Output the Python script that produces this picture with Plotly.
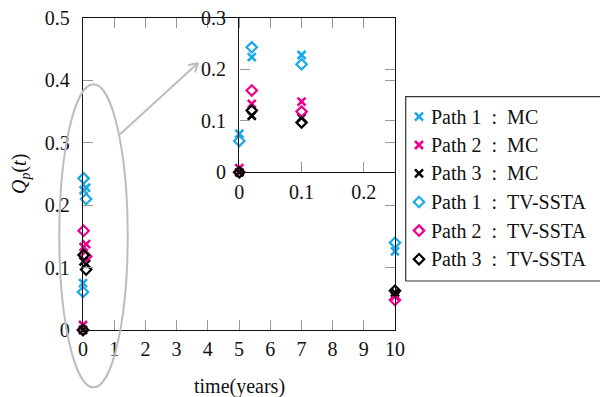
import numpy as np
import plotly.graph_objects as go

# ---- data ----
t = [0, 0.02, 0.1, 10]
path1_mc = [0.075, 0.224, 0.228, 0.126]
path2_mc = [0.008, 0.133, 0.1375, 0.054]
path3_mc = [0.0, 0.11, 0.106, 0.060]
path1_tv = [0.061, 0.243, 0.210, 0.140]
path2_tv = [0.0, 0.159, 0.118, 0.048]
path3_tv = [0.0, 0.120, 0.097, 0.063]

names = ["Path 1\u2002:\u2002MC", "Path 2\u2002:\u2002MC", "Path 3\u2002:\u2002MC",
         "Path 1\u2002:\u2002TV-SSTA", "Path 2\u2002:\u2002TV-SSTA", "Path 3\u2002:\u2002TV-SSTA"]
series = [path1_mc, path2_mc, path3_mc, path1_tv, path2_tv, path3_tv]

main_yticks = [0, 0.1, 0.2, 0.3, 0.4, 0.5]
main_ytext = ["0", "0.1", "0.2", "0.3", "0.4", "0.5"]
main_xticks = list(range(0, 11))
main_xtext = [str(v) for v in main_xticks]
inset_xticks = [0, 0.1, 0.2]
inset_xtext = ["0", "0.1", "0.2"]
inset_yticks = [0, 0.1, 0.2, 0.3]
inset_ytext = ["0", "0.1", "0.2", "0.3"]

CYAN = "#1AA9E8"
MAG = "#EC008C"
BLK = "#000000"
colors = [CYAN, MAG, BLK, CYAN, MAG, BLK]
symbols = ["x-thin-open"] * 3 + ["diamond-open"] * 3
widths = [2.6] * 3 + [2.2] * 3

FONT = "Times New Roman, Liberation Serif, Times, serif"
TXT = "#111"
W, H = 600, 397


def px(x, y):
    """pixel -> paper (margin is zero, so paper = whole figure)"""
    return x / W, (H - y) / H


# plot-area geometry (pixels)
MAIN_L, MAIN_R, MAIN_T, MAIN_B = 83, 395, 18, 330
INS_L, INS_B = 239.3, 172.3

fig = go.Figure()
for i, ys in enumerate(series):
    mk = dict(symbol=symbols[i], size=8, color=colors[i],
              line=dict(color=colors[i], width=widths[i]))
    fig.add_trace(go.Scatter(x=t, y=ys, mode="markers", name=names[i], marker=mk,
                             cliponaxis=False, showlegend=False, xaxis="x", yaxis="y"))
for i, ys in enumerate(series):
    mk = dict(symbol=symbols[i], size=8, color=colors[i],
              line=dict(color=colors[i], width=widths[i]))
    fig.add_trace(go.Scatter(x=t, y=ys, mode="markers", name=names[i], marker=mk,
                             showlegend=False, cliponaxis=False,
                             xaxis="x2", yaxis="y2"))

# ---- hand-made legend (reference legend runs off the right edge) ----
leg_x_marker = 419
leg_x_text = 429
leg_rows = [116.7, 145.0, 173.3, 202.0, 230.6, 259.2]
for i in range(6):
    mk = dict(symbol=symbols[i], size=8, color=colors[i],
              line=dict(color=colors[i], width=widths[i]))
    fig.add_trace(go.Scatter(x=[leg_x_marker], y=[leg_rows[i]], mode="markers",
                             marker=mk, showlegend=False, cliponaxis=False,
                             hoverinfo="skip", xaxis="x3", yaxis="y3"))
    fig.add_annotation(text=names[i], xref="paper", yref="paper",
                       x=px(leg_x_text, 0)[0], y=px(0, leg_rows[i])[1],
                       xanchor="left", yanchor="middle", showarrow=False,
                       font=dict(family=FONT, size=20, color=TXT))
lx0, ly0 = px(405.7, 281.0)
lx1, ly1 = px(640, 96.7)
fig.add_shape(type="rect", xref="paper", yref="paper", x0=lx0, y0=ly0, x1=lx1, y1=ly1,
              line=dict(color="#333", width=1.2), layer="below")

tickfont = dict(family=FONT, size=20, color=TXT)
axis_common = dict(showline=True, linecolor="#111", linewidth=1.4, mirror="ticks",
                   ticks="inside", ticklen=10, tickcolor="#999", tickwidth=1,
                   showgrid=False, zeroline=False, automargin=False,
                   tickfont=tickfont)

fig.update_layout(
    width=W, height=H,
    margin=dict(l=0, r=0, t=0, b=0, pad=0),
    paper_bgcolor="white", plot_bgcolor="rgba(0,0,0,0)",
    font=dict(family=FONT, size=20, color=TXT),
    xaxis=dict(domain=[MAIN_L / W, MAIN_R / W], range=[0, 10], tickvals=main_xticks,
               ticktext=main_xtext, ticklabelstandoff=1, anchor="y", **axis_common),
    yaxis=dict(domain=[(H - MAIN_B) / H, (H - MAIN_T) / H], range=[0, 0.5],
               tickvals=main_yticks, ticktext=main_ytext, ticklabelstandoff=8,
               anchor="x", **axis_common),
    xaxis2=dict(domain=[INS_L / W, MAIN_R / W], range=[0, 0.25], anchor="y2",
                tickvals=inset_xticks, ticktext=inset_xtext,
                ticklabelstandoff=1, **axis_common),
    yaxis2=dict(domain=[(H - INS_B) / H, (H - MAIN_T) / H], range=[0, 0.3], anchor="x2",
                tickvals=inset_yticks, ticktext=inset_ytext,
                ticklabelstandoff=8, **axis_common),
    xaxis3=dict(domain=[0, 1], range=[0, W], visible=False, fixedrange=True,
                anchor="y3"),
    yaxis3=dict(domain=[0, 1], range=[H, 0], visible=False, fixedrange=True,
                anchor="x3"),
    showlegend=False,
)

# axis titles
fig.add_annotation(text="time(years)", xref="paper", yref="paper",
                   x=px((MAIN_L + MAIN_R) / 2, 0)[0], y=px(0, 386)[1], showarrow=False,
                   font=dict(family=FONT, size=20, color=TXT),
                   xanchor="center", yanchor="middle")
fig.add_annotation(text="<i>Q</i><sub><i>p</i></sub>(<i>t</i>)", xref="paper", yref="paper",
                   x=px(21, 0)[0], y=px(0, (MAIN_T + MAIN_B) / 2)[1], showarrow=False,
                   textangle=-90, font=dict(family=FONT, size=20, color=TXT),
                   xanchor="center", yanchor="middle")

GRAY = "#BDBDBD"
# ellipse around the early points
ex0, ey0 = px(59.3, 387.3)
ex1, ey1 = px(127.7, 84.3)
fig.add_shape(type="circle", xref="paper", yref="paper", x0=ex0, y0=ey0, x1=ex1, y1=ey1,
              line=dict(color=GRAY, width=2))

# arrow from ellipse to inset
sx, sy = 120.0, 134.3
tx, ty = 198.0, 63.0
a0 = px(sx, sy)
a1 = px(tx, ty)
fig.add_shape(type="line", xref="paper", yref="paper", x0=a0[0], y0=a0[1], x1=a1[0], y1=a1[1],
              line=dict(color=GRAY, width=2))
u = np.array([tx - sx, ty - sy])
u = u / np.linalg.norm(u)
for ang in (np.pi / 6, -np.pi / 6):
    c, s = np.cos(ang), np.sin(ang)
    r = np.array([c * u[0] - s * u[1], s * u[0] + c * u[1]])
    p0 = px(tx - 10 * r[0], ty - 10 * r[1])
    fig.add_shape(type="line", xref="paper", yref="paper", x0=p0[0], y0=p0[1],
                  x1=a1[0], y1=a1[1], line=dict(color=GRAY, width=2))

fig.write_html("out.html")
